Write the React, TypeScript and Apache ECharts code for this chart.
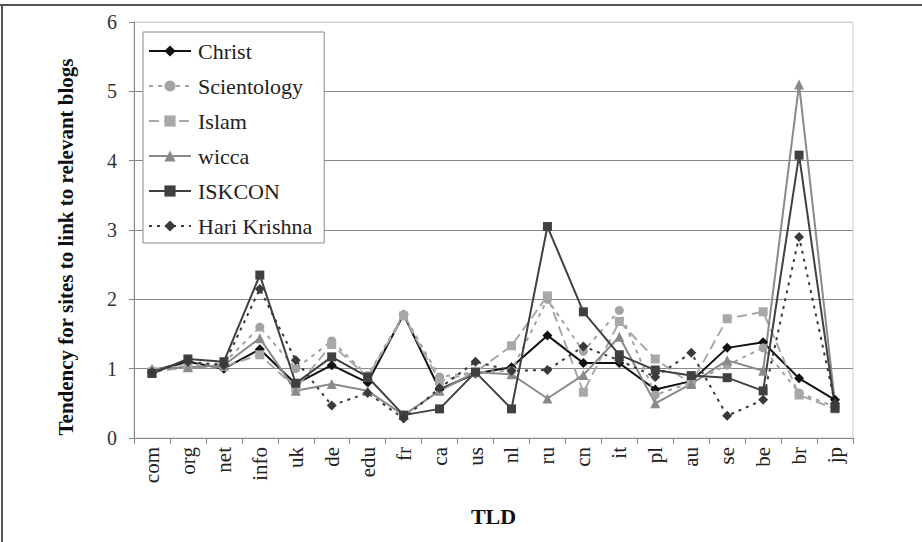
import React, { useEffect, useRef } from "react";
import * as echarts from "echarts";

const categories = ["com", "org", "net", "info", "uk", "de", "edu", "fr", "ca", "us", "nl", "ru", "cn", "it", "pl", "au", "se", "be", "br", "jp"];

const christ = [0.97, 1.1, 1.0, 1.28, 0.78, 1.05, 0.8, 1.78, 0.7, 0.93, 1.02, 1.48, 1.08, 1.08, 0.7, 0.82, 1.3, 1.38, 0.86, 0.55];
const scientology = [0.97, 1.05, 1.08, 1.6, 1.0, 1.4, 0.9, 1.78, 0.88, 0.95, 0.97, 2.0, 1.25, 1.84, 0.62, 0.8, 1.05, 1.3, 0.65, 0.45];
const islam = [0.95, 1.02, 1.03, 1.2, 0.72, 1.35, 0.88, 1.76, 0.82, 0.95, 1.33, 2.05, 0.66, 1.68, 1.14, 0.78, 1.72, 1.82, 0.62, 0.42];
const wicca = [1.0, 1.02, 1.05, 1.44, 0.68, 0.78, 0.68, 0.33, 0.68, 0.95, 0.92, 0.57, 0.91, 1.46, 0.5, 0.78, 1.12, 0.97, 5.1, 0.5];
const iskcon = [0.93, 1.14, 1.1, 2.35, 0.79, 1.17, 0.88, 0.33, 0.42, 0.95, 0.42, 3.05, 1.82, 1.2, 0.98, 0.9, 0.87, 0.68, 4.08, 0.43];
const hariKrishna = [0.95, 1.1, 1.05, 2.15, 1.12, 0.47, 0.65, 0.28, 0.72, 1.1, 0.97, 0.98, 1.32, 1.12, 0.88, 1.23, 0.32, 0.55, 2.9, 0.5];

const yTicks = [0, 1, 2, 3, 4, 5, 6];

const FONT = "Liberation Serif";

export default function App() {
  const ref = useRef<HTMLDivElement>(null);

  useEffect(() => {
    if (!ref.current) return;
    const chart = echarts.init(ref.current, null, { renderer: "svg" });

    const mk = (name: string, data: number[], color: string, symbol: string, size: number, type: any) => ({
      name,
      type: "line",
      data,
      symbol,
      symbolSize: size,
      showSymbol: true,
      itemStyle: { color },
      lineStyle: { color, width: 2, type },
    });

    chart.setOption({
      animation: false,
      backgroundColor: "#fff",
      textStyle: { fontFamily: FONT },
      grid: {
        left: 134,
        right: 69,
        top: 22,
        bottom: 104,
        show: true,
        borderColor: "#cfcfcf",
        borderWidth: 1,
      },
      legend: {
        orient: "vertical",
        left: 143,
        top: 32,
        width: 183,
        backgroundColor: "#fff",
        borderColor: "#8a8a8a",
        borderWidth: 1,
        padding: [8, 12, 6, 5],
        itemGap: 13,
        itemWidth: 42,
        itemHeight: 14,
        textStyle: { fontFamily: FONT, fontSize: 22, color: "#222", padding: [0, 0, 0, 2] },
        data: ["Christ", "Scientology", "Islam", "wicca", "ISKCON", "Hari Krishna"],
      },
      xAxis: {
        type: "category",
        data: categories,
        boundaryGap: true,
        axisLine: { lineStyle: { color: "#888", width: 1 } },
        axisTick: { show: true, length: 6, alignWithLabel: false, lineStyle: { color: "#888" } },
        axisLabel: { rotate: 90, interval: 0, margin: 9, fontFamily: FONT, fontSize: 21, color: "#222" },
        name: "TLD",
        nameLocation: "middle",
        nameGap: 67,
        nameTextStyle: { fontFamily: FONT, fontSize: 22, fontWeight: "bold", color: "#111" },
      },
      yAxis: {
        type: "value",
        min: yTicks[0],
        max: yTicks[yTicks.length - 1],
        interval: 1,
        axisLine: { show: true, lineStyle: { color: "#888", width: 1 } },
        axisTick: { show: true, length: 5, lineStyle: { color: "#888" } },
        axisLabel: { fontFamily: FONT, fontSize: 20, color: "#333", margin: 17 },
        splitLine: {
          show: true,
          lineStyle: { color: ["#888", "#888", "#888", "#888", "#888", "#888", "#cfcfcf"], width: 1 },
        },
      },
      graphic: [
        {
          type: "text",
          x: 66,
          y: 247,
          rotation: Math.PI / 2,
          style: {
            text: "Tendency for sites to link to relevant blogs",
            fontFamily: FONT,
            fontSize: 21,
            fontWeight: "bold",
            fill: "#111",
            align: "center",
            verticalAlign: "middle",
          },
        },
        { type: "line", shape: { x1: 0, y1: 5, x2: 922, y2: 5 }, style: { stroke: "#555", lineWidth: 2 } },
        { type: "line", shape: { x1: 2, y1: 5, x2: 2, y2: 542 }, style: { stroke: "#555", lineWidth: 2 } },
      ],
      series: [
        mk("Christ", christ, "#111111", "diamond", 10, "solid"),
        mk("Scientology", scientology, "#a3a3a3", "circle", 9, [4, 5]),
        mk("Islam", islam, "#a8a8a8", "rect", 9, [10, 5]),
        mk("wicca", wicca, "#8a8a8a", "triangle", 10, "solid"),
        mk("ISKCON", iskcon, "#404040", "rect", 9, "solid"),
        mk("Hari Krishna", hariKrishna, "#3a3a3a", "diamond", 10, [3, 5]),
      ],
    });

    return () => chart.dispose();
  }, []);

  return (
    <div
      ref={ref}
      style={{ position: "fixed", left: 0, top: 0, width: 922, height: 542 }}
    />
  );
}
